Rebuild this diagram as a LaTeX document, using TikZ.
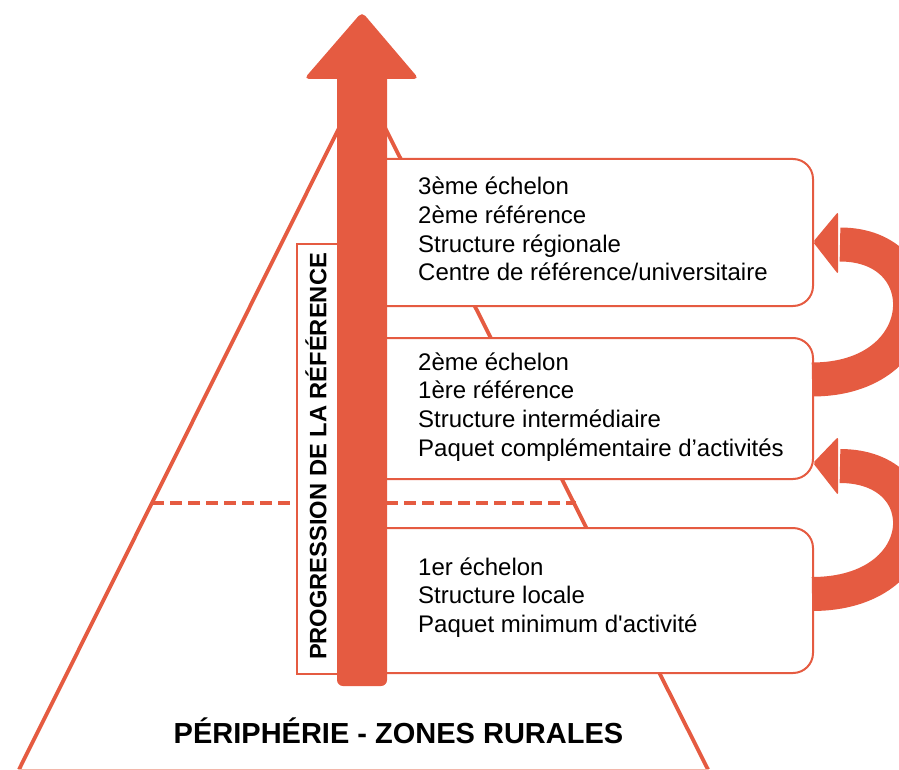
\documentclass[tikz,border=0pt]{standalone}
\usepackage{fontspec}
\setmainfont{Liberation Sans}
\definecolor{orng}{RGB}{229,91,65}
\begin{document}
\begin{tikzpicture}[x=1pt,y=-1pt,
  pyr/.style={draw=orng, line width=3.8pt},
  lvlbox/.style={draw=orng, line width=2pt, fill=white, rounded corners=20pt, anchor=north west, inner sep=0pt},
  lbl/.style={draw=orng, line width=2pt, fill=white, anchor=north west, inner sep=0pt},
  txt/.style={anchor=base west, inner sep=0pt, font=\fontsize{24}{28}\selectfont, text=black},
  curvshaft/.style={draw=orng, line width=34pt},
  headfill/.style={fill=orng, rounded corners=2pt},
]
\useasboundingbox (0,0) rectangle (899,770);
\begin{scope}
\clip (0,0) rectangle (899,770);
% pyramid
\coordinate (apex) at (362,82);
\coordinate (bl) at (19,769.5);
\coordinate (br) at (708,769.5);
\draw[pyr, line join=miter] (bl) -- (apex) -- (br);
\draw[draw=orng!45, line width=1.5pt] (bl) -- (br);
\coordinate (dl) at (152,503);
\coordinate (dr) at (575.5,503);
\draw[orng, line width=3.5pt, dash pattern=on 12pt off 6pt] (dl) -- (dr);
% label box
\node[lbl, minimum width=80pt, minimum height=430pt] (lab) at (296,243) {};
% level boxes
\node[lvlbox, minimum width=452pt, minimum height=147pt] (b3) at (360,158) {};
\node[lvlbox, minimum width=452pt, minimum height=141pt] (b2) at (360,337) {};
\node[lvlbox, minimum width=452pt, minimum height=145pt] (b1) at (360,527) {};
% main arrow
\fill[orng, rounded corners=6pt] (337,60) -- (337,686) -- (387,686) -- (387,60) -- cycle;
\fill[orng, rounded corners=5pt] (362,12) -- (419,79) -- (304,79) -- cycle;
% curved arrows
\coordinate (t1) at (812,594);
\coordinate (h1) at (840,466);
\coordinate (p1) at (813,463);
\draw[curvshaft] (t1) .. controls +(123,0) and +(100,0) .. (h1);
\fill[headfill] (p1) -- (838,437) -- (838,495) -- cycle;
\coordinate (t2) at (812,379.5);
\coordinate (h2) at (840,244.5);
\coordinate (p2) at (813,242);
\draw[curvshaft] (t2) .. controls +(123,0) and +(100,0) .. (h2);
\fill[headfill] (p2) -- (838,212) -- (838,274) -- cycle;
\end{scope}
% texts box 3
\node[txt] (l31) at (418,195) {3ème échelon};
\node[txt] (l32) at (418,223.5) {2ème référence};
\node[txt] (l33) at (418,252) {Structure régionale};
\node[txt] (l34) at (418,280) {Centre de référence/universitaire};
% box 2
\node[txt] (l21) at (418,370) {2ème échelon};
\node[txt] (l22) at (418,398.5) {1ère référence};
\node[txt] (l23) at (418,427) {Structure intermédiaire};
\node[txt] (l24) at (418,456) {Paquet complémentaire d’activités};
% box 1
\node[txt] (l11) at (418,575) {1er échelon};
\node[txt] (l12) at (418,603.5) {Structure locale};
\node[txt] (l13) at (418,632) {Paquet minimum d\textquotesingle activité};
% vertical label
\node[inner sep=0pt, rotate=90, font=\bfseries\fontsize{23.7}{28}\selectfont] (vlab) at (316,456.5) {PROGRESSION DE LA RÉFÉRENCE};
% title
\node[anchor=base, inner sep=0pt, font=\bfseries\fontsize{29}{34}\selectfont] (title) at (398.5,743) {PÉRIPHÉRIE - ZONES RURALES};
\end{tikzpicture}
\end{document}
